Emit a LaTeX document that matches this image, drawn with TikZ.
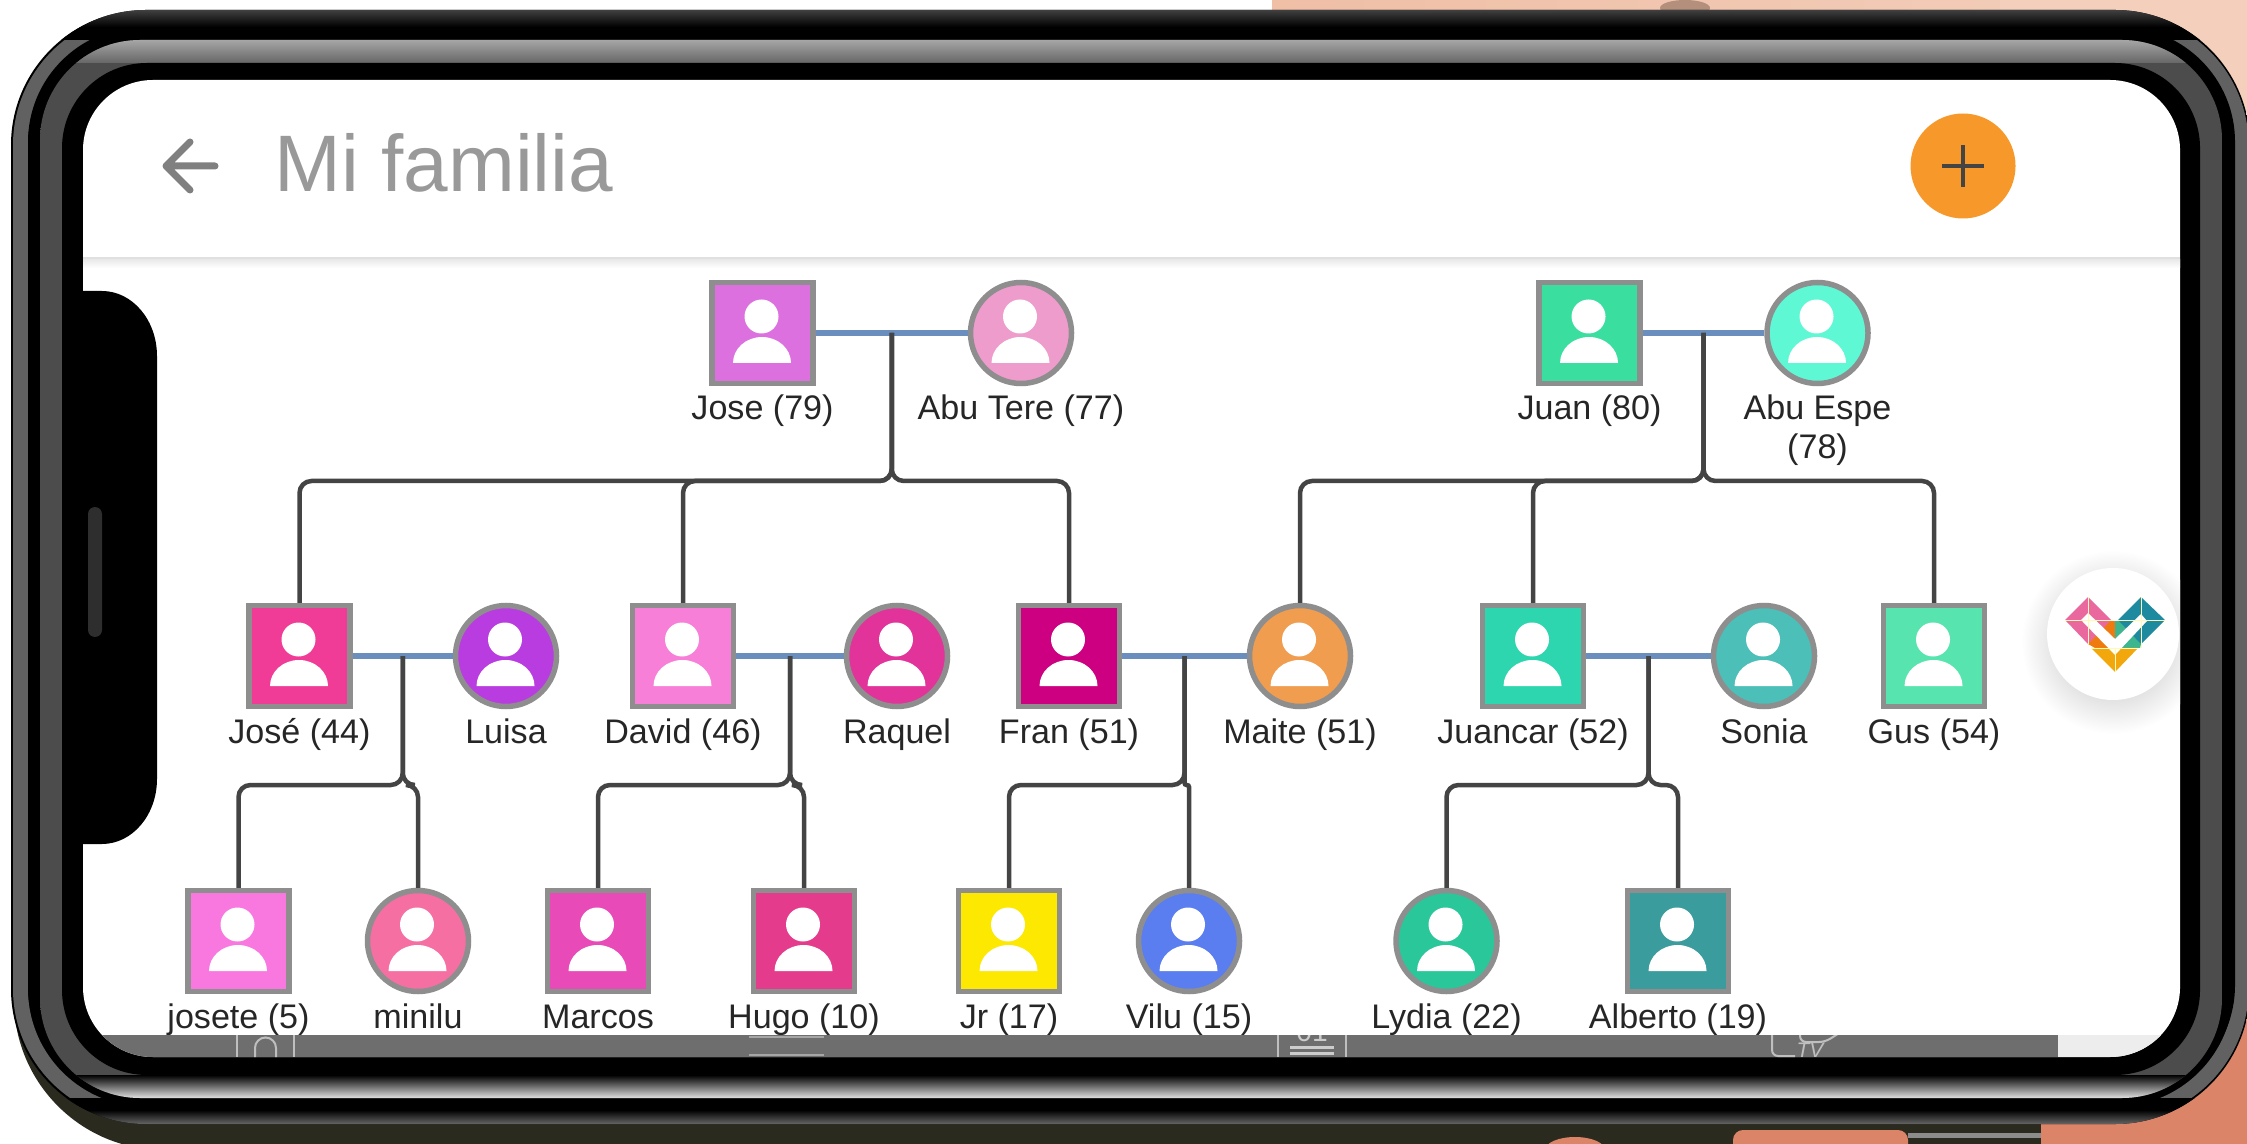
\documentclass[tikz,border=0pt]{standalone}
\usepackage{fontspec}
\setmainfont{Liberation Sans}
\usetikzlibrary{positioning}

\definecolor{skin}{HTML}{EFBFA6}
\definecolor{skindark}{HTML}{DB8468}
\definecolor{backdark}{HTML}{2B2A1E}
\definecolor{navgray}{HTML}{6E6E6E}
\definecolor{ringgray}{HTML}{8F8F8F}
\definecolor{edgegray}{HTML}{8E8E8E}
\definecolor{couple}{HTML}{6A8FBE}
\definecolor{kinline}{HTML}{444444}
\definecolor{orangebtn}{HTML}{F7992A}
\definecolor{hpink}{HTML}{E9699F}
\definecolor{hteal}{HTML}{1D8AA0}
\definecolor{horange}{HTML}{EF7A10}
\definecolor{hgreen}{HTML}{3DB58F}
\definecolor{hyellow}{HTML}{F2A80C}
\definecolor{cjose}{HTML}{DC70DF}
\definecolor{cabutere}{HTML}{EE9CCB}
\definecolor{cjuan}{HTML}{3ADFA0}
\definecolor{cabuespe}{HTML}{5EF8D5}
\definecolor{cjoseh}{HTML}{F03C96}
\definecolor{cluisa}{HTML}{B93CE0}
\definecolor{cdavid}{HTML}{F77FD8}
\definecolor{craquel}{HTML}{E2339A}
\definecolor{cfran}{HTML}{CC0080}
\definecolor{cmaite}{HTML}{F09D50}
\definecolor{cjuancar}{HTML}{2DD6AE}
\definecolor{csonia}{HTML}{4BBFB8}
\definecolor{cgus}{HTML}{58E4AE}
\definecolor{cjosete}{HTML}{F878E0}
\definecolor{cminilu}{HTML}{F66FA3}
\definecolor{cmarcos}{HTML}{E84BB8}
\definecolor{chugo}{HTML}{E53B8C}
\definecolor{cjr}{HTML}{FCE800}
\definecolor{cvilu}{HTML}{5A7DF0}
\definecolor{clydia}{HTML}{29C79A}
\definecolor{calberto}{HTML}{3A9C9C}

\tikzset{
  person/.style={draw=edgegray, line width=.055cm, inner sep=0, minimum size=1.01cm,
    path picture={
      \fill[white, shift={(path picture bounding box.center)}]
        (-.01,.165) circle (.17)
        (-.295,-.30) arc[start angle=180, end angle=0, x radius=.29, y radius=.26] -- cycle;
    }},
  sq/.style={person, rectangle},
  rd/.style={person, circle},
  lab/.style={inner sep=0, text=black!85, text height=.28cm, text depth=.08cm,
    font=\fontsize{9.7}{12}\selectfont},
  union/.style={couple, line width=.06cm},
  kin/.style={kinline, line width=.045cm, rounded corners=.12cm},
}

\begin{document}
\begin{tikzpicture}[on grid]
\path[use as bounding box, clip] (0,0) rectangle (22.47,-11.44);
\fill[white] (0,0) rectangle (22.47,-11.44);

% what is behind the phone
\shade[left color=skin, right color=skin!75!white] (12.72,0) rectangle (22.47,-.5);
\fill[skin!75!black] (16.85,-.08) ellipse (.25 and .08);
\fill[skin!75!white] (20,0) rectangle (22.47,-2);
\fill[backdark, rounded corners=1.5cm] (.14,-6) rectangle (24,-11.5);
\fill[skindark] (20.41,-9.5) rectangle (22.47,-11.44);
\fill[skindark, rounded corners=.1cm] (17.33,-11.3) rectangle (19.08,-11.6);
\fill[skindark] (15.75,-11.5) ellipse (.3 and .13);
\fill[black!45] (19.08,-11.33) rectangle (20.41,-11.38);

% phone body
\begin{scope}
\clip[rounded corners=1.35cm] (.11,-.1) rectangle (22.5,-11.24);
\fill[black] (0,0) rectangle (22.5,-11.3);
\draw[black!62, line width=.15cm, rounded corners=1.25cm] (.205,-.2) rectangle (22.41,-11.14);
\fill[black, rounded corners=1.15cm] (.28,-.27) rectangle (22.35,-11.0);
\shade[top color=black!75, bottom color=black] (0,-.1) rectangle (22.5,-.27);
\fill[black] (0,-.27) rectangle (22.5,-.4);
\fill[black] (0,-10.98) rectangle (22.5,-11.1);
\shade[top color=black, bottom color=black!60] (0,-11.1) rectangle (22.5,-11.24);
\end{scope}
\begin{scope}
\clip[rounded corners=1cm] (.40,-.40) rectangle (22.22,-10.98);
\shade[top color=black!70, middle color=ringgray, bottom color=black!70] (.40,-.40) rectangle (22.22,-10.98);
\shade[top color=black!35, bottom color=black!60] (0,-.40) rectangle (22.5,-.63);
\shade[top color=black, bottom color=black!12] (0,-10.75) rectangle (22.5,-10.98);
\end{scope}
\fill[black, rounded corners=.85cm] (.62,-.63) rectangle (22.0,-10.75);

% screen
\fill[white, rounded corners=.7cm] (.83,-.8) rectangle (21.8,-10.57);
\fill[black!12] (.83,-2.57) rectangle (21.8,-2.60);
\shade[top color=black!8, bottom color=white] (.83,-2.60) rectangle (21.8,-2.68);
\fill[black] (.83,-2.91) -- (1.02,-2.91) arc[start angle=90, end angle=0, x radius=.55, y radius=.65]
  -- (1.57,-7.79) arc[start angle=0, end angle=-90, x radius=.55, y radius=.65] -- (.83,-8.44) -- cycle;
\fill[black!82, rounded corners=.07cm] (.88,-5.07) rectangle (1.02,-6.37);

\draw[black!50, line width=.07cm, line cap=round, line join=round]
  (1.9,-1.42) -- (1.66,-1.66) -- (1.9,-1.90) (1.66,-1.66) -- (2.15,-1.66);
\node (title) [anchor=base west, inner sep=0, text=black!40, font=\fontsize{22.8}{26}\selectfont]
  at (2.74,-1.92) {Mi familia};
\node (addbtn) [circle, fill=orangebtn, inner sep=0, minimum size=1.05cm] at (19.63,-1.66) {};
\draw[kinline, line width=.035cm] (addbtn.center) ++(-.21,0) -- ++(.42,0) (addbtn.center) ++(0,.21) -- ++(0,-.42);

% round button with the heart
\begin{scope}
\clip (.83,-2.7) rectangle (21.8,-9);
\shade[inner color=black!30, outer color=white] (21.13,-6.42) circle (.92);
\end{scope}
\node (heartbtn) [circle, fill=white, inner sep=0, minimum size=1.32cm] at (21.13,-6.34) {};
\begin{scope}[shift={(heartbtn.center)}, x=.01cm, y=-.01cm]
\fill[horange] (-13,-13) -- (2,-13) -- (2,14) -- (-18,14) -- (-25,10) -- cycle;
\fill[hgreen] (2,-13) -- (17,-13) -- (28,10) -- (27,14) -- (2,14) -- cycle;
\fill[hpink] (-48,-14) -- (-25,-37) -- (-2,-14) -- (-25,10) -- cycle;
\fill[hteal] (52,-14) -- (28,-37) -- (5,-14) -- (28,10) -- cycle;
\fill[hyellow] (-22,14) -- (25,14) -- (2,38) -- cycle;
\fill[white] (-32,-14) -- (-25,-21) -- (2,5) -- (28,-20) -- (34,-13) -- (2,21) -- cycle;
\draw[white!70!yellow, line width=.2pt] (-48,-14) -- (-2,-14) (-25,-37) -- (-25,10) (5,-14) -- (52,-14)
  (28,-37) -- (28,14) (-22,14) -- (25,14) (2,14) -- (2,38);
\end{scope}

% people
\node[sq, fill=cjose] (jose) at (7.625,-3.33) {};
\node[rd, fill=cabutere] (abutere) [right=2.585cm of jose] {};
\node[sq, fill=cjuan] (juan) [right=8.27cm of jose] {};
\node[rd, fill=cabuespe] (abuespe) [right=2.28cm of juan] {};

\node[sq, fill=cjoseh] (joseh) at (2.995,-6.56) {};
\node[rd, fill=cluisa] (luisa) [right=2.065cm of joseh] {};
\node[sq, fill=cdavid] (david) [right=1.77cm of luisa] {};
\node[rd, fill=craquel] (raquel) [right=2.14cm of david] {};
\node[sq, fill=cfran] (fran) [right=1.72cm of raquel] {};
\node[rd, fill=cmaite] (maite) [right=2.31cm of fran] {};
\node[sq, fill=cjuancar] (juancar) [right=2.33cm of maite] {};
\node[rd, fill=csonia] (sonia) [right=2.31cm of juancar] {};
\node[sq, fill=cgus] (gus) [right=1.70cm of sonia] {};

\node[sq, fill=cjosete] (josete) at (2.385,-9.41) {};
\node[rd, fill=cminilu] (minilu) [right=1.795cm of josete] {};
\node[sq, fill=cmarcos] (marcos) [right=1.80cm of minilu] {};
\node[sq, fill=chugo] (hugo) [right=2.06cm of marcos] {};
\node[sq, fill=cjr] (jr) [right=2.05cm of hugo] {};
\node[rd, fill=cvilu] (vilu) [right=1.80cm of jr] {};
\node[rd, fill=clydia] (lydia) [right=2.575cm of vilu] {};
\node[sq, fill=calberto] (alberto) [right=2.315cm of lydia] {};

% names
\node[lab] (ljose) [below=.77cm of jose] {Jose (79)};
\node[lab] (labutere) [below=.77cm of abutere] {Abu Tere (77)};
\node[lab] (ljuan) [below=.77cm of juan] {Juan (80)};
\node[lab] (labuespe) [below=.77cm of abuespe] {Abu Espe};
\node[lab] (labuespeb) [below=.38cm of labuespe] {(78)};
\node[lab] (ljoseh) [below=.77cm of joseh] {José (44)};
\node[lab] (lluisa) [below=.77cm of luisa] {Luisa};
\node[lab] (ldavid) [below=.77cm of david] {David (46)};
\node[lab] (lraquel) [below=.77cm of raquel] {Raquel};
\node[lab] (lfran) [below=.77cm of fran] {Fran (51)};
\node[lab] (lmaite) [below=.77cm of maite] {Maite (51)};
\node[lab] (ljuancar) [below=.77cm of juancar] {Juancar (52)};
\node[lab] (lsonia) [below=.77cm of sonia] {Sonia};
\node[lab] (lgus) [below=.77cm of gus] {Gus (54)};
\node[lab] (ljosete) [below=.77cm of josete] {josete (5)};
\node[lab] (lminilu) [below=.77cm of minilu] {minilu};
\node[lab] (lmarcos) [below=.77cm of marcos] {Marcos};
\node[lab] (lhugo) [below=.77cm of hugo] {Hugo (10)};
\node[lab] (ljr) [below=.77cm of jr] {Jr (17)};
\node[lab] (lvilu) [below=.77cm of vilu] {Vilu (15)};
\node[lab] (llydia) [below=.77cm of lydia] {Lydia (22)};
\node[lab] (lalberto) [below=.77cm of alberto] {Alberto (19)};

% couples
\draw[union] (jose) -- (abutere) coordinate[midway] (ma);
\draw[union] (juan) -- (abuespe) coordinate[midway] (mb);
\draw[union] (joseh) -- (luisa) coordinate[midway] (mc);
\draw[union] (david) -- (raquel) coordinate[midway] (md);
\draw[union] (fran) -- (maite) coordinate[midway] (me);
\draw[union] (juancar) -- (sonia) coordinate[midway] (mf);

\coordinate[below=1.48cm of ma] (busa);
\coordinate[below=1.48cm of mb] (busb);
\coordinate[below=1.29cm of mc] (busc);
\coordinate[below=1.29cm of md] (busd);
\coordinate[below=1.29cm of me] (buse);
\coordinate[below=1.29cm of mf] (busf);

% children
\draw[kin] (ma) -- (busa) -| (joseh.north);
\draw[kin] (ma) -- (busa) -| (david.north);
\draw[kin] (ma) -- (busa) -| (fran.north);
\draw[kin] (mb) -- (busb) -| (maite.north);
\draw[kin] (mb) -- (busb) -| (juancar.north);
\draw[kin] (mb) -- (busb) -| (gus.north);
\draw[kin] (mc) -- (busc) -| (josete.north);
\draw[kin] (mc) -- (busc) -| (minilu.north);
\draw[kin] (md) -- (busd) -| (marcos.north);
\draw[kin] (md) -- (busd) -| (hugo.north);
\draw[kin] (me) -- (buse) -| (jr.north);
\draw[kin, rounded corners=.02cm] (me) -- (buse) -| (vilu.north);
\draw[kin] (mf) -- (busf) -| (lydia.north);
\draw[kin] (mf) -- (busf) -| (alberto.north);

% bar under the screen
\begin{scope}
\clip[rounded corners=.7cm] (.83,-.8) rectangle (21.8,-10.57);
\clip (0,-10.35) rectangle (22,-10.57);
\fill[navgray] (0,-10.35) rectangle (20.58,-10.57);
\fill[black!7] (20.58,-10.35) rectangle (22,-10.57);
\draw[black!25, line width=.02cm] (2.37,-10.3) -- (2.37,-10.57) (2.94,-10.3) -- (2.94,-10.57);
\draw[black!25, line width=.02cm] (2.55,-10.57) -- (2.55,-10.48) arc[start angle=180, end angle=0, radius=.105] -- (2.76,-10.57);
\draw[black!35, line width=.02cm] (7.49,-10.37) -- (8.24,-10.37) (7.49,-10.55) -- (8.24,-10.55);
\draw[black!25, line width=.02cm] (12.78,-10.3) -- (12.78,-10.57) (13.46,-10.3) -- (13.46,-10.57);
\node (navone) [inner sep=0, text=black!20, font=\fontsize{8}{9}\selectfont] at (13.12,-10.32) {01};
\draw[black!20, line width=.03cm] (12.9,-10.47) -- (13.34,-10.47) (12.9,-10.53) -- (13.34,-10.53);
\draw[black!25, line width=.02cm, rounded corners=.06cm] (17.72,-10.3) -- (17.72,-10.56) -- (17.95,-10.56);
\draw[black!25, line width=.02cm, rounded corners=.06cm] (18.0,-10.3) -- (18.0,-10.42) -- (18.25,-10.42) -- (18.44,-10.3);
\node (navtv) [inner sep=0, text=black!25, font=\itshape\fontsize{6}{7}\selectfont] at (18.1,-10.5) {TV};
\end{scope}
\end{tikzpicture}
\end{document}
